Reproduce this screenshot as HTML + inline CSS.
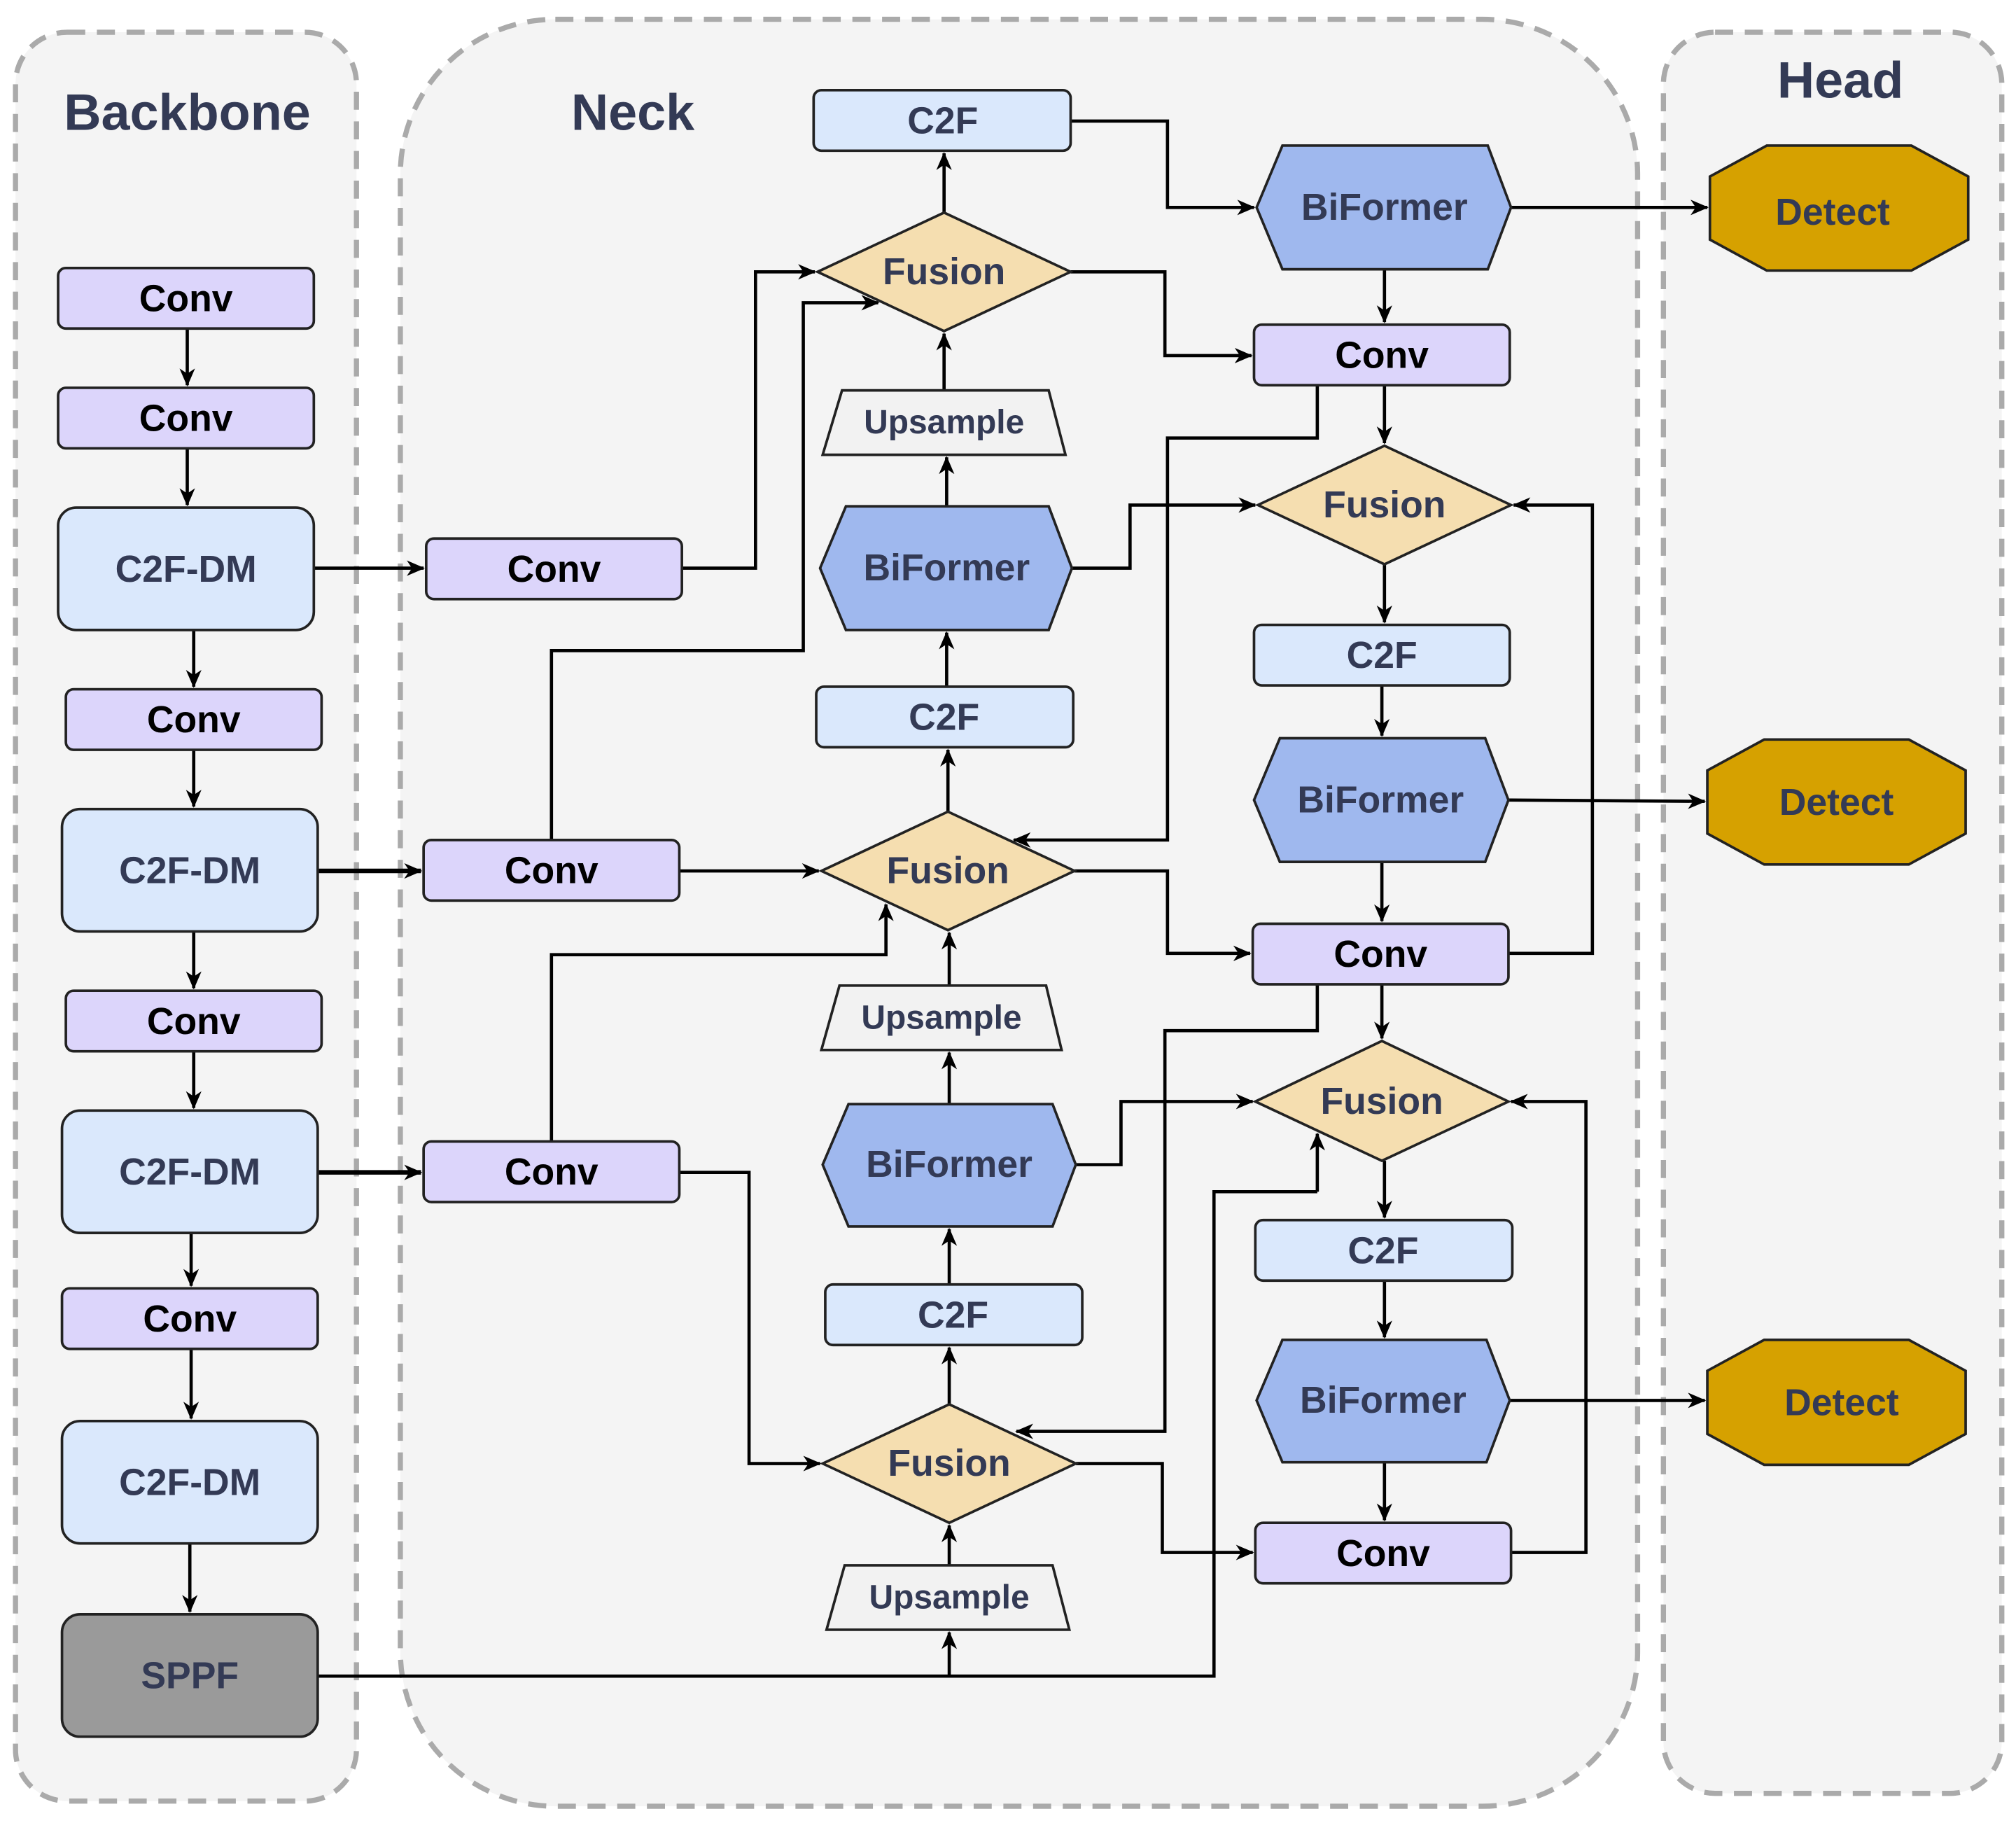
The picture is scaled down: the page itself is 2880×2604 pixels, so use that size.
<!DOCTYPE html>
<html><head><meta charset="utf-8"><style>
html,body{margin:0;padding:0;background:#fff;}
svg{display:block;}
text{font-family:"Liberation Sans",Arial,sans-serif;font-weight:bold;text-anchor:middle;dominant-baseline:central;}
.t{fill:#333a55;font-size:29px;}
.k{fill:#000;font-size:29px;}
.u{fill:#333a55;font-size:26px;}
.h{fill:#333a55;font-size:40px;}
.cv{fill:#dcd5fb;stroke:#222;stroke-width:2;}
.lb{fill:#dae8fc;stroke:#222;stroke-width:2;}
.bf{fill:#9fb8ee;stroke:#222;stroke-width:2;}
.fu{fill:#f5deb0;stroke:#222;stroke-width:2;}
.up{fill:#f2f2f2;stroke:#222;stroke-width:2;}
.de{fill:#d6a100;stroke:#222;stroke-width:2;}
.e{fill:none;stroke:#000;stroke-width:2.5;marker-end:url(#a);}
</style></head><body>
<svg width="2880" height="2604" viewBox="0 0 1561 1415" preserveAspectRatio="none" xmlns="http://www.w3.org/2000/svg">
<defs><marker id="a" markerWidth="14" markerHeight="14" refX="13" refY="7" orient="auto" markerUnits="userSpaceOnUse"><path d="M0,1 L14,7 L0,13 L4,7 z" fill="#000"/></marker></defs>
<rect x="0" y="0" width="1561" height="1415" fill="#fff"/>
<rect x="12" y="25" width="264" height="1373" rx="40" fill="#f4f4f4" stroke="#aaa" stroke-width="4" stroke-dasharray="14,9"/>
<rect x="310" y="15" width="958" height="1387" rx="120" fill="#f4f4f4" stroke="#aaa" stroke-width="4" stroke-dasharray="14,9"/>
<rect x="1288" y="25" width="262" height="1367" rx="40" fill="#f4f4f4" stroke="#aaa" stroke-width="4" stroke-dasharray="14,9"/>
<text class="h" x="145" y="87">Backbone</text>
<text class="h" x="490" y="87">Neck</text>
<text class="h" x="1425" y="62">Head</text>

<path class="e" d="M145,255V299"/><path class="e" d="M145,348V392"/>
<path class="e" d="M150,489V533"/><path class="e" d="M150,582V626"/>
<path class="e" d="M150,723V767"/><path class="e" d="M150,816V860"/>
<path class="e" d="M148,957V998"/><path class="e" d="M148,1047V1101"/>
<path class="e" d="M147,1198V1251"/>
<path class="e" d="M243,441H328"/><path class="e" d="M246,676H326" style="stroke-width:3.5"/><path class="e" d="M246,910H326" style="stroke-width:3.5"/>
<path class="e" d="M528,441H585V211H631"/>
<path class="e" d="M427,652V505H622V235H680"/>
<path class="e" d="M526,676L634,676"/>
<path class="e" d="M427,886V741H686V702"/>
<path class="e" d="M526,910H580V1136H635"/>
<path d="M246,1301H940V925H1020" fill="none" stroke="#000" stroke-width="2.5"/>
<path class="e" d="M1020,925V880"/>
<path class="e" d="M735,1301V1267"/>
<path class="e" d="M735,1215V1184"/><path class="e" d="M735,1090V1046"/><path class="e" d="M735,997V954"/>
<path class="e" d="M735,857V817"/><path class="e" d="M735,765V724"/><path class="e" d="M734,630V582"/>
<path class="e" d="M733,533V491"/><path class="e" d="M733,393V355"/><path class="e" d="M731,303V259"/><path class="e" d="M731,165V119"/>
<path class="e" d="M829,94H904V161H971"/>
<path class="e" d="M829,211H902V276H969"/>
<path class="e" d="M1072,209V250"/>
<path class="e" d="M1020,299V340H904V652H785"/>
<path class="e" d="M1072,299V344"/>
<path class="e" d="M830,441H875V392H972"/>
<path class="e" d="M1072,438V483"/><path class="e" d="M1070,532V571"/><path class="e" d="M1070,669V715"/>
<path class="e" d="M1170,161H1322"/><path class="e" d="M1168,621L1320,622"/><path class="e" d="M1169,1087H1320"/>
<path class="e" d="M832,676H904V740H968"/>
<path class="e" d="M1168,740H1233V392H1172"/>
<path class="e" d="M1020,764V800H902V1111H787"/>
<path class="e" d="M1070,764V806"/>
<path class="e" d="M833,904H868V855H970"/>
<path class="e" d="M1072,901V945"/><path class="e" d="M1072,994V1038"/><path class="e" d="M1072,1135V1180"/>
<path class="e" d="M833,1136H900V1205H970"/>
<path class="e" d="M1170,1205H1228V855H1170"/>

<rect class="cv" x="45" y="208" width="198" height="47" rx="6"/><text class="k" x="144" y="232">Conv</text>
<rect class="cv" x="45" y="301" width="198" height="47" rx="6"/><text class="k" x="144" y="325">Conv</text>
<rect class="lb" x="45" y="394" width="198" height="95" rx="14"/><text class="t" x="144" y="442">C2F-DM</text>
<rect class="cv" x="51" y="535" width="198" height="47" rx="6"/><text class="k" x="150" y="559">Conv</text>
<rect class="lb" x="48" y="628" width="198" height="95" rx="14"/><text class="t" x="147" y="676">C2F-DM</text>
<rect class="cv" x="51" y="769" width="198" height="47" rx="6"/><text class="k" x="150" y="793">Conv</text>
<rect class="lb" x="48" y="862" width="198" height="95" rx="14"/><text class="t" x="147" y="910">C2F-DM</text>
<rect class="cv" x="48" y="1000" width="198" height="47" rx="6"/><text class="k" x="147" y="1024">Conv</text>
<rect class="lb" x="48" y="1103" width="198" height="95" rx="14"/><text class="t" x="147" y="1151">C2F-DM</text>
<rect x="48" y="1253" width="198" height="95" rx="14" fill="#9a9a9a" stroke="#222" stroke-width="2"/><text class="t" x="147" y="1301">SPPF</text>

<rect class="cv" x="330" y="418" width="198" height="47" rx="6"/><text class="k" x="429" y="442">Conv</text>
<rect class="cv" x="328" y="652" width="198" height="47" rx="6"/><text class="k" x="427" y="676">Conv</text>
<rect class="cv" x="328" y="886" width="198" height="47" rx="6"/><text class="k" x="427" y="910">Conv</text>

<rect class="lb" x="630" y="70" width="199" height="47" rx="6"/><text class="t" x="730" y="94">C2F</text>
<polygon class="fu" points="633,211 731,165 829,211 731,257"/><text class="t" x="731" y="211">Fusion</text>
<polygon class="up" points="652,303 812,303 825,353 637,353"/><text class="u" x="731" y="328">Upsample</text>
<polygon class="bf" points="635,441 655,393 812,393 830,441 812,489 655,489"/><text class="t" x="733" y="441">BiFormer</text>
<rect class="lb" x="632" y="533" width="199" height="47" rx="6"/><text class="t" x="731" y="557">C2F</text>
<polygon class="fu" points="636,676 734,630 832,676 734,722"/><text class="t" x="734" y="676">Fusion</text>
<polygon class="up" points="650,765 810,765 822,815 636,815"/><text class="u" x="729" y="790">Upsample</text>
<polygon class="bf" points="637,904 657,857 815,857 833,904 815,952 657,952"/><text class="t" x="735" y="904">BiFormer</text>
<rect class="lb" x="639" y="997" width="199" height="47" rx="6"/><text class="t" x="738" y="1021">C2F</text>
<polygon class="fu" points="637,1136 735,1090 833,1136 735,1182"/><text class="t" x="735" y="1136">Fusion</text>
<polygon class="up" points="654,1215 815,1215 828,1265 640,1265"/><text class="u" x="735" y="1240">Upsample</text>

<polygon class="bf" points="973,161 993,113 1152,113 1170,161 1152,209 993,209"/><text class="t" x="1072" y="161">BiFormer</text>
<rect class="cv" x="971" y="252" width="198" height="47" rx="6"/><text class="k" x="1070" y="276">Conv</text>
<polygon class="fu" points="974,392 1072,346 1170,392 1072,438"/><text class="t" x="1072" y="392">Fusion</text>
<rect class="lb" x="971" y="485" width="198" height="47" rx="6"/><text class="t" x="1070" y="509">C2F</text>
<polygon class="bf" points="971,621 991,573 1150,573 1168,621 1150,669 991,669"/><text class="t" x="1069" y="621">BiFormer</text>
<rect class="cv" x="970" y="717" width="198" height="47" rx="6"/><text class="k" x="1069" y="741">Conv</text>
<polygon class="fu" points="972,855 1070,808 1168,855 1070,901"/><text class="t" x="1070" y="855">Fusion</text>
<rect class="lb" x="972" y="947" width="199" height="47" rx="6"/><text class="t" x="1071" y="971">C2F</text>
<polygon class="bf" points="973,1087 993,1040 1151,1040 1169,1087 1151,1135 993,1135"/><text class="t" x="1071" y="1087">BiFormer</text>
<rect class="cv" x="972" y="1182" width="198" height="47" rx="6"/><text class="k" x="1071" y="1206">Conv</text>

<polygon class="de" points="1324,137 1368,113 1480,113 1524,137 1524,186 1480,210 1368,210 1324,186"/><text class="t" x="1419" y="165">Detect</text>
<polygon class="de" points="1322,598 1366,574 1478,574 1522,598 1522,647 1478,671 1366,671 1322,647"/><text class="t" x="1422" y="623">Detect</text>
<polygon class="de" points="1322,1064 1366,1040 1478,1040 1522,1064 1522,1113 1478,1137 1366,1137 1322,1113"/><text class="t" x="1426" y="1089">Detect</text>
</svg>
</body></html>
